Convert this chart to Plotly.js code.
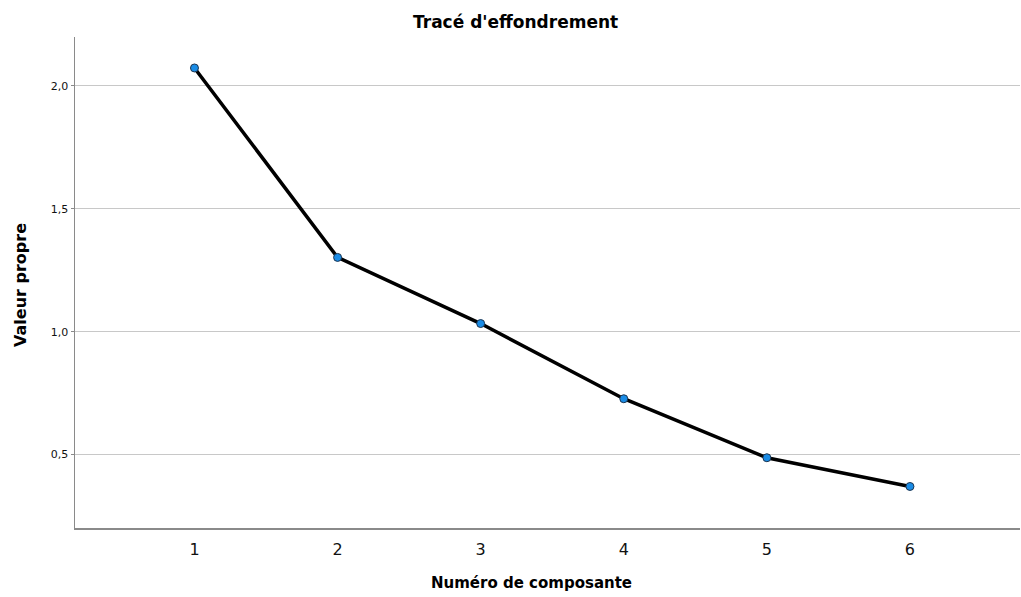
<!DOCTYPE html>
<html>
<head>
<meta charset="utf-8">
<script src="https://cdn.plot.ly/plotly-3.0.1.min.js"></script>
<style>html,body{margin:0;padding:0;background:#fff;}#chart{width:1021px;height:597px;}</style>
</head>
<body>
<div id="chart"></div>
<script>
var components = [1, 2, 3, 4, 5, 6];
var eigenvalues = [2.073, 1.302, 1.033, 0.727, 0.487, 0.370];
var yTickVals = [0.5, 1.0, 1.5, 2.0];
var yTickText = ["0,5", "1,0", "1,5", "2,0"];
var titleText = "Tracé d'effondrement";
var xTitle = "Numéro de composante";
var yTitle = "Valeur propre";

var FONT = "DejaVu Sans, Verdana, sans-serif";

Plotly.newPlot('chart', [{
  x: components,
  y: eigenvalues,
  type: 'scatter',
  mode: 'lines+markers',
  line: {color: '#000000', width: 3.5},
  marker: {color: '#1a8ce6', size: 8, line: {color: '#1d3550', width: 1}},
  hoverinfo: 'x+y'
}], {
  width: 1021,
  height: 597,
  margin: {l: 75, r: 1, t: 37, b: 69},
  paper_bgcolor: '#ffffff',
  plot_bgcolor: '#ffffff',
  showlegend: false,
  title: {text: titleText, font: {family: FONT, size: 17, color: '#000000', weight: 'bold'}, x: 0.505, xanchor: 'center', y: 0.963, yanchor: 'middle'},
  annotations: [
    {text: xTitle, xref: 'paper', yref: 'paper', x: (531 - 75) / 945, y: -(583 - 528) / 491, xanchor: 'center', yanchor: 'middle', showarrow: false,
     font: {family: FONT, size: 15, color: '#000000', weight: 'bold'}},
    {text: yTitle, xref: 'paper', yref: 'paper', x: -(75 - 20) / 945, y: (528 - 285) / 491, xanchor: 'center', yanchor: 'middle', showarrow: false, textangle: -90,
     font: {family: FONT, size: 16, color: '#000000', weight: 'bold'}}
  ],
  xaxis: {
    range: [0.165, 6.769],
    tickvals: components,
    ticktext: components.map(String),
    showgrid: false,
    zeroline: false,
    showline: true,
    linecolor: '#8a8a8a',
    linewidth: 1.5,
    ticks: 'outside',
    ticklen: 6,
    tickcolor: 'rgba(0,0,0,0)',
    tickfont: {family: FONT, size: 16, color: '#111111'}
  },
  yaxis: {
    range: [0.201, 2.199],
    tickvals: yTickVals,
    ticktext: yTickText,
    showgrid: true,
    gridcolor: '#c8c8c8',
    gridwidth: 1,
    zeroline: false,
    showline: true,
    linecolor: '#8a8a8a',
    linewidth: 1.5,
    ticks: 'outside',
    ticklen: 3,
    tickcolor: '#8a8a8a',
    tickfont: {family: FONT, size: 11, color: '#111111'}
  }
}, {displayModeBar: false, staticPlot: true});
</script>
</body>
</html>
